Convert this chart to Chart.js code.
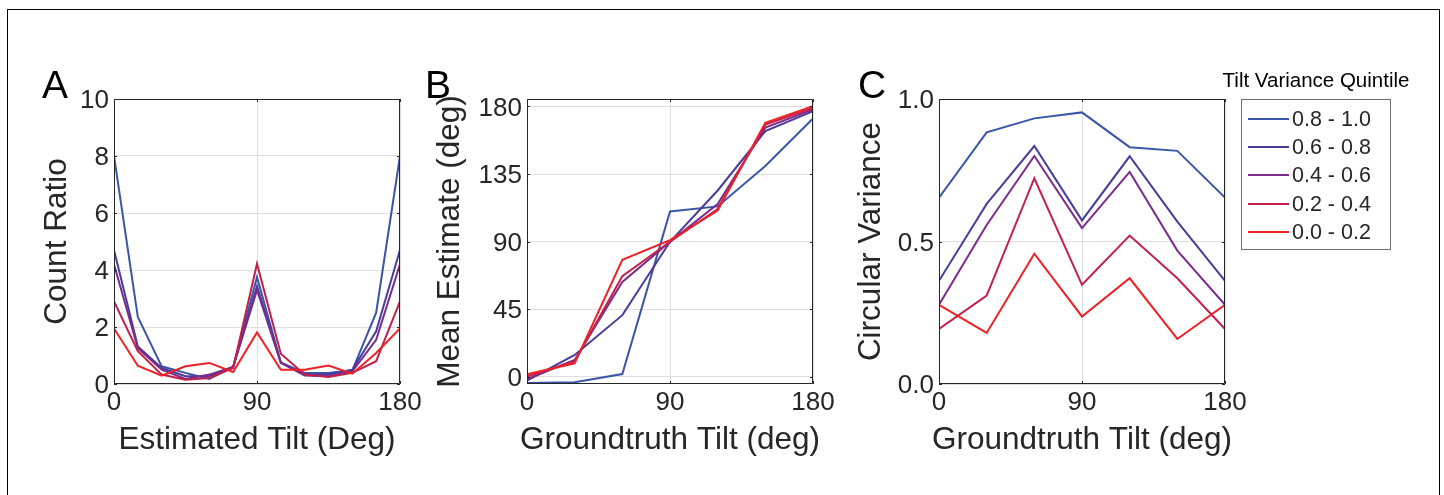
<!DOCTYPE html>
<html>
<head>
<meta charset="utf-8">
<title>Tilt estimates by variance quintile</title>
<script src="https://cdn.jsdelivr.net/npm/chart.js@4.4.1/dist/chart.umd.min.js"></script>
<style>
  body { margin: 0; background: #fff; font-family: "Liberation Sans", Arial, sans-serif; color: #262626; }
  #page { position: relative; width: 1444px; height: 495px; overflow: hidden; background: #fff; }
  #frame { position: absolute; left: 7px; top: 9px; width: 1431px; height: 600px; border: 1px solid #000; border-bottom: none; }
  canvas { position: absolute; top: 60px; }
  .letter { position: absolute; top: 65px; font-size: 39px; line-height: 39px; color: #000; }
  #legendTitle { position: absolute; left: 1216px; width: 200px; top: 70px; text-align: center; font-size: 20.5px; line-height: 20.5px; color: #000; white-space: nowrap; }
  #legend { position: absolute; left: 1241px; top: 99px; width: 150px; height: 151px; box-sizing: border-box; border: 1px solid #6e6e6e; background: #fff; }
  #legend .row { position: absolute; left: 0; height: 28px; line-height: 28px; font-size: 21.5px; color: #262626; padding-left: 50px; white-space: nowrap; }
  #legend .swatch { position: absolute; left: 6px; top: 13px; width: 41px; height: 2px; }
</style>
</head>
<body>
<div id="page">
  <div id="frame"></div>
  <canvas id="chartA" width="416" height="420" style="left:14px"></canvas>
  <canvas id="chartB" width="416" height="420" style="left:427px"></canvas>
  <canvas id="chartC" width="416" height="420" style="left:839px"></canvas>
  <div class="letter" style="left:42px">A</div>
  <div class="letter" style="left:425px">B</div>
  <div class="letter" style="left:858px">C</div>
  <div id="legendTitle">Tilt Variance Quintile</div>
  <div id="legend"></div>
</div>
<script>
// series labels + colours, same order in every panel
const quintiles = ['0.8 - 1.0', '0.6 - 0.8', '0.4 - 0.6', '0.2 - 0.4', '0.0 - 0.2'];
const quintileColors = ['#3a55a8', '#4b3c9c', '#7a2b8c', '#c21f4b', '#ef2126'];

// A: count ratio vs estimated tilt
const estimatedTilt = [0, 15, 30, 45, 60, 75, 90, 105, 120, 135, 150, 165, 180];
const countRatioQ5 = [8.0, 2.35, 0.62, 0.39, 0.18, 0.6, 3.75, 0.76, 0.39, 0.39, 0.48, 2.5, 8.0];
const countRatioQ4 = [4.7, 1.32, 0.56, 0.27, 0.27, 0.6, 3.43, 0.74, 0.33, 0.33, 0.5, 1.85, 4.7];
const countRatioQ3 = [4.2, 1.26, 0.5, 0.18, 0.33, 0.6, 3.3, 0.74, 0.3, 0.27, 0.44, 1.55, 4.2];
const countRatioQ2 = [2.9, 1.15, 0.33, 0.15, 0.21, 0.56, 4.22, 1.06, 0.33, 0.25, 0.39, 0.8, 2.9];
const countRatioQ1 = [1.95, 0.64, 0.29, 0.62, 0.74, 0.42, 1.81, 0.5, 0.5, 0.65, 0.36, 1.09, 1.95];

// B and C share the groundtruth tilt bins
const groundtruthTilt = [0, 30, 60, 90, 120, 150, 180];
const meanEstimateQ5 = [-4.4, -3.8, 1.6, 110, 113.4, 140.4, 172];
const meanEstimateQ4 = [-2.7, 14.4, 40.9, 89.8, 124, 163.6, 176.9];
const meanEstimateQ3 = [-1.8, 11, 63, 89.8, 115, 165.9, 178];
const meanEstimateQ2 = [0, 10, 66.8, 89.8, 111.7, 168, 179];
const meanEstimateQ1 = [1.5, 8.8, 77.8, 90.9, 110.6, 169.2, 180.2];

const circVarianceQ5 = [0.654, 0.883, 0.932, 0.953, 0.831, 0.818, 0.654];
const circVarianceQ4 = [0.362, 0.632, 0.835, 0.574, 0.799, 0.57, 0.362];
const circVarianceQ3 = [0.278, 0.558, 0.8, 0.547, 0.744, 0.468, 0.278];
const circVarianceQ2 = [0.193, 0.31, 0.722, 0.348, 0.521, 0.371, 0.193];
const circVarianceQ1 = [0.278, 0.179, 0.457, 0.237, 0.371, 0.158, 0.278];

// tick labels
const tiltTicks = [0, 90, 180];
const countTicks = [0, 2, 4, 6, 8, 10];
const meanTicks = [0, 45, 90, 135, 180];
const varianceTicks = [0, 0.5, 1];

Chart.defaults.font.family = '"Liberation Sans", Arial, sans-serif';
Chart.defaults.color = '#262626';

const AXIS = '#262626';
const GRID = '#dfdfdf';

// matlab style box with short inward ticks on all four sides
const boxPlugin = {
  id: 'matlabBox',
  afterDatasetsDraw(chart) {
    const { ctx, chartArea: a, scales: { x, y } } = chart;
    const tl = 3;
    ctx.save();
    ctx.strokeStyle = AXIS;
    ctx.lineWidth = 1;
    ctx.beginPath();
    ctx.rect(a.left + 0.5, a.top + 0.5, a.width - 1, a.height - 1);
    x.ticks.forEach(t => {
      const px = Math.round(x.getPixelForValue(t.value)) + 0.5;
      ctx.moveTo(px, a.bottom); ctx.lineTo(px, a.bottom - tl);
      ctx.moveTo(px, a.top); ctx.lineTo(px, a.top + tl);
    });
    y.ticks.forEach(t => {
      const py = Math.round(y.getPixelForValue(t.value)) + 0.5;
      ctx.moveTo(a.left, py); ctx.lineTo(a.left + tl, py);
      ctx.moveTo(a.right, py); ctx.lineTo(a.right - tl, py);
    });
    ctx.stroke();
    ctx.restore();
  }
};

// axis titles: chart.js squeezes scale titles to the axis length, matlab doesn't
const titlePlugin = {
  id: 'axisTitles',
  afterDraw(chart, args, opts) {
    const { ctx, chartArea: a } = chart;
    ctx.save();
    ctx.fillStyle = AXIS;
    ctx.font = opts.size + 'px "Liberation Sans", Arial, sans-serif';
    ctx.textAlign = 'center';
    ctx.textBaseline = 'middle';
    ctx.fillText(opts.x, (a.left + a.right) / 2, a.bottom + opts.xGap);
    ctx.translate(a.left - opts.yGap, (a.top + a.bottom) / 2);
    ctx.rotate(-Math.PI / 2);
    ctx.fillText(opts.y, 0, 0);
    ctx.restore();
  }
};

function makePanel(id, xs, series, cfg) {
  return new Chart(document.getElementById(id), {
    type: 'line',
    data: {
      datasets: series.map((vals, i) => ({
        label: quintiles[i],
        data: vals.map((v, j) => ({ x: xs[j], y: v })),
        borderColor: quintileColors[i],
        borderWidth: 2,
        pointRadius: 0,
        tension: 0,
        order: series.length - 1 - i   // lowest quintile drawn on top
      }))
    },
    options: {
      responsive: false,
      animation: false,
      layout: { padding: { top: 39, right: 30, bottom: 0, left: 0 } },
      plugins: {
        legend: { display: false },
        tooltip: { enabled: false },
        axisTitles: { x: cfg.xTitle, y: cfg.title, size: 31.5, xGap: 56.8, yGap: cfg.yGap }
      },
      scales: {
        x: {
          type: 'linear',
          min: 0,
          max: 180,
          afterBuildTicks: s => { s.ticks = tiltTicks.map(v => ({ value: v })); },
          afterFit: s => { s.height = 96; },
          grid: { color: GRID, drawTicks: false },
          border: { display: false },
          ticks: { font: { size: 26 }, padding: 3, color: AXIS, maxRotation: 0 }
        },
        y: {
          min: cfg.min,
          max: cfg.max,
          afterBuildTicks: s => { s.ticks = cfg.ticks.map(v => ({ value: v })); },
          afterFit: s => { s.width = 100; },
          grid: { color: GRID, drawTicks: false },
          border: { display: false },
          ticks: { font: { size: 26 }, padding: 5, color: AXIS, labelOffset: 2, callback: cfg.fmt }
        }
      }
    },
    plugins: [boxPlugin, titlePlugin]
  });
}

makePanel('chartA', estimatedTilt,
  [countRatioQ5, countRatioQ4, countRatioQ3, countRatioQ2, countRatioQ1],
  { min: 0, max: 10, ticks: countTicks, title: 'Count Ratio', xTitle: 'Estimated Tilt (Deg)', yGap: 56.9, fmt: v => v });

makePanel('chartB', groundtruthTilt,
  [meanEstimateQ5, meanEstimateQ4, meanEstimateQ3, meanEstimateQ2, meanEstimateQ1],
  { min: -5, max: 185, ticks: meanTicks, title: 'Mean Estimate (deg)', xTitle: 'Groundtruth Tilt (deg)', yGap: 76.2, fmt: v => v });

makePanel('chartC', groundtruthTilt,
  [circVarianceQ5, circVarianceQ4, circVarianceQ3, circVarianceQ2, circVarianceQ1],
  { min: 0, max: 1, ticks: varianceTicks, title: 'Circular Variance', xTitle: 'Groundtruth Tilt (deg)', yGap: 67.9, fmt: v => v.toFixed(1) });

// legend built from the same series arrays
const legendBox = document.getElementById('legend');
quintiles.forEach((q, i) => {
  const row = document.createElement('div');
  row.className = 'row';
  row.style.top = (5 + i * 28.2) + 'px';
  const sw = document.createElement('span');
  sw.className = 'swatch';
  sw.style.background = quintileColors[i];
  row.appendChild(sw);
  row.appendChild(document.createTextNode(q));
  legendBox.appendChild(row);
});
</script>
</body>
</html>
